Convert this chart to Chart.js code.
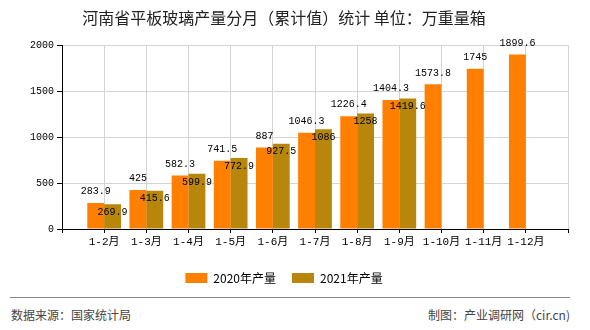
<!DOCTYPE html>
<html><head><meta charset="utf-8">
<script src="https://cdn.jsdelivr.net/npm/chart.js@4/dist/chart.umd.min.js"></script>
<style>
html,body{margin:0;padding:0;background:#fff;}
#wrap{position:relative;width:590px;height:330px;overflow:hidden;background:#fff;}
#cbox{position:absolute;left:0;top:0;width:590px;height:296px;}
#line{position:absolute;left:10px;top:297px;width:560px;height:0;border-top:1px solid #888;}
.foot{position:absolute;top:307px;font:12px/16px 'Noto Sans CJK SC',sans-serif;color:#444;white-space:nowrap;}
</style></head><body>
<div id="wrap">
<div id="cbox"><canvas id="c"></canvas></div>
<div id="line"></div>
<div class="foot" style="left:11px">数据来源：国家统计局</div>
<div class="foot" style="right:20px">制图：产业调研网（cir.cn)</div>
</div>
<script>
const categories = ['1-2月','1-3月','1-4月','1-5月','1-6月','1-7月','1-8月','1-9月','1-10月','1-11月','1-12月'];
const output2020 = [283.9,425,582.3,741.5,887,1046.3,1226.4,1404.3,1573.8,1745,1899.6];
const output2021 = [269.9,415.6,599.9,772.9,927.5,1086,1258,1419.6,null,null,null];
const yTicks = [0,500,1000,1500,2000];
const seriesNames = ['2020年产量','2021年产量'];
const titleText = '河南省平板玻璃产量分月（累计值）统计 单位：万重量箱';

const labels = [''].concat(categories, ['']);
const pad = arr => [null].concat(arr, [null]);
const monoFont = "'Liberation Mono','Noto Sans CJK SC',monospace";

const labelPlugin = {
  id: 'vlabels',
  afterDatasetsDraw(chart) {
    const ctx = chart.ctx;
    ctx.save();
    ctx.font = "10px " + monoFont;
    ctx.fillStyle = '#000';
    ctx.textAlign = 'center';
    ctx.textBaseline = 'middle';
    chart.data.datasets.forEach((ds, di) => {
      const meta = chart.getDatasetMeta(di);
      meta.data.forEach((bar, i) => {
        const v = ds.data[i];
        if (v == null) return;
        const y = di === 0 ? bar.y - 11.5 : bar.y + 8;
        ctx.fillText(String(v), bar.x, y);
      });
    });
    ctx.restore();
  }
};

new Chart(document.getElementById('c'), {
  type: 'bar',
  data: {
    labels: labels,
    datasets: [
      {label: seriesNames[0], data: pad(output2020), backgroundColor: '#FF8000', categoryPercentage: 0.8, barPercentage: 1.0},
      {label: seriesNames[1], data: pad(output2021), backgroundColor: '#B8860B', categoryPercentage: 0.8, barPercentage: 1.0}
    ]
  },
  options: {
    responsive: true,
    maintainAspectRatio: false,
    animation: false,
    devicePixelRatio: 1,
    layout: {padding: {left: 0, right: 22, top: 0, bottom: 2}},
    plugins: {
      title: {display: true, text: titleText, color: '#222',
        font: {family: "'Noto Sans CJK SC',sans-serif", size: 16, weight: 'normal'},
        padding: {top: 8, bottom: 18}},
      legend: {display: true, position: 'bottom',
        labels: {boxWidth: 22, boxHeight: 10, padding: 16, color: '#000',
          font: {family: "'Noto Sans CJK SC',sans-serif", size: 12}}},
      tooltip: {enabled: false}
    },
    scales: {
      x: {
        type: 'category', offset: false,
        grid: {offset: false, color: '#d4d4d4', tickColor: '#000', tickLength: 4, drawOnChartArea: true},
        border: {color: '#000', width: 1},
        ticks: {color: '#000', font: {family: monoFont, size: 11}, autoSkip: false, maxRotation: 0, padding: 2},
        afterFit(s) { s.height = 27; }
      },
      y: {
        min: 0, max: 2000,
        afterBuildTicks(s) { s.ticks = yTicks.map(v => ({value: v})); },
        grid: {color: '#d4d4d4', tickColor: '#000', tickLength: 5},
        border: {color: '#000', width: 1},
        ticks: {color: '#000', font: {family: monoFont, size: 10}, padding: 3, callback: v => String(v)},
        afterFit(s) { s.width = 62; }
      }
    }
  },
  plugins: [labelPlugin]
});
</script>
</body></html>
